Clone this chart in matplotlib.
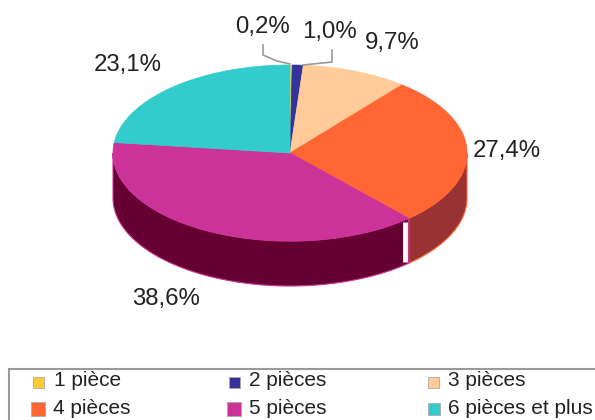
import numpy as np
import matplotlib
matplotlib.use("Agg")
import matplotlib.pyplot as plt
from matplotlib.patches import Polygon, Rectangle

plt.rcParams['font.family'] = ['Liberation Sans', 'DejaVu Sans']

# données
categories = ["1 pièce", "2 pièces", "3 pièces", "4 pièces", "5 pièces", "6 pièces et plus"]
values = [0.2, 1.0, 9.7, 27.4, 38.6, 23.1]
value_labels = ["0,2%", "1,0%", "9,7%", "27,4%", "38,6%", "23,1%"]
top_colors = ["#FFCC33", "#333399", "#FFCC99", "#FF6633", "#CC3399", "#33CCCC"]
side_colors = ["#997a1f", "#1f1f5c", "#99795c", "#993333", "#660033", "#1f7a7a"]

# position des étiquettes et de la légende (pixels)
label_pos = [(262, 27), (329, 32), (392, 43), (507, 151), (166, 299), (128, 65)]
marker_box = [(33, 377, 11), (229, 377, 11), (428, 377, 11), (31, 402, 14), (227, 402, 14), (428, 403, 12)]
text_pos = [(54, 381), (249, 381), (448, 381), (53, 408), (249, 408), (448, 408)]

cx, cy, a, b, depth = 290, 153, 177, 88, 45

fig = plt.figure(figsize=(5.95, 4.2), dpi=100)
ax = fig.add_axes([0, 0, 1, 1])
ax.set_xlim(0, 595)
ax.set_ylim(420, 0)
ax.axis('off')


# point sur l'ellipse, angle en degrés depuis midi, sens horaire
def ell(t, dy=0):
    t = np.radians(t)
    return cx + a * np.sin(t), cy - b * np.cos(t) + dy


edges = np.concatenate([[0], np.cumsum(values)]) / sum(values) * 360

# parois (seulement la moitié avant est visible)
for i in range(len(values)):
    t0, t1 = max(edges[i], 90), min(edges[i + 1], 270)
    if t1 <= t0:
        continue
    t = np.linspace(t0, t1, 120)
    xs, ys = ell(t)
    xb, yb = ell(t, depth)
    pts = np.column_stack([np.concatenate([xs, xb[::-1]]), np.concatenate([ys, yb[::-1]])])
    ax.add_patch(Polygon(pts, closed=True, facecolor=side_colors[i], edgecolor=top_colors[i], linewidth=0.8, zorder=2))

# trait blanc entre 4 et 5 pièces sur la paroi
xw, yw = ell(edges[4])
ax.plot([xw - 3.5, xw - 3.5], [yw + 4, yw + depth - 1], color='white', linewidth=3.5, solid_capstyle='butt', zorder=3)

# dessus du camembert
for i in range(len(values)):
    t = np.linspace(edges[i], edges[i + 1], 200)
    xs, ys = ell(t)
    pts = np.column_stack([np.concatenate([[cx], xs]), np.concatenate([[cy], ys])])
    ax.add_patch(Polygon(pts, closed=True, facecolor=top_colors[i], edgecolor=top_colors[i], linewidth=0.5, zorder=4))

# traits de rappel
ax.plot([263, 263, 277, 290], [45, 55, 61, 64], color='#999999', linewidth=1.2, zorder=5)
ax.plot([332, 332, 303], [50, 62, 65], color='#999999', linewidth=1.2, zorder=5)

for (x, y), txt in zip(label_pos, value_labels):
    ax.text(x, y, txt, fontsize=17.3, color='#222222', ha='center', va='center', zorder=6)

# légende
ax.add_patch(Rectangle((9, 369), 600, 60, facecolor='white', edgecolor='#999999', linewidth=1.5, zorder=1))
for (x, y, s), c in zip(marker_box, top_colors):
    ax.add_patch(Rectangle((x, y), s, s, facecolor=c, edgecolor='#aaaaaa', linewidth=0.6, zorder=2))
for (x, y), name in zip(text_pos, categories):
    ax.text(x, y, name, fontsize=15, color='#222222', ha='left', va='center', zorder=3)

plt.savefig("out.png", dpi=100)
plt.close()
